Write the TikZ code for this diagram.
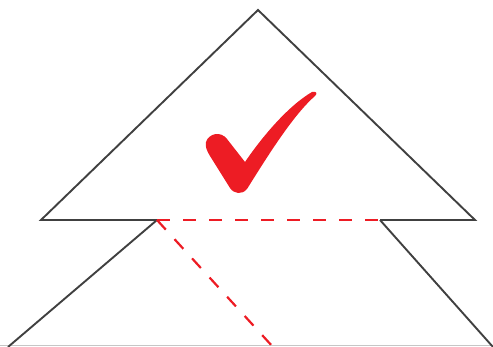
\documentclass[tikz,border=0pt]{standalone}
\definecolor{linegray}{HTML}{404040}
\definecolor{checkred}{HTML}{ED1C24}
\begin{document}
\begin{tikzpicture}[x=1pt, y=-1pt,
		outline/.style={line width=1.9pt, draw=linegray, line join=miter},
		cutline/.style={line width=2.2pt, draw=checkred, dash pattern=on 13pt off 13pt}]
	\useasboundingbox (0,0) rectangle (493,347);
	\coordinate (apex) at (258,10);
	\coordinate (baseL) at (41,220);
	\coordinate (baseR) at (475,220);
	\coordinate (cutL) at (157,220);
	\coordinate (cutR) at (380,220);
	\coordinate (footL) at (8,347);
	\coordinate (footR) at (493,347);
	\coordinate (cutEnd) at (273,347);
	% ground line
	\draw[gray!45, line width=1pt] (0,346) -- (493,346);
	% roof and lower part
	\draw[outline] (cutL) -- (baseL) -- (apex) -- (baseR) -- (cutR);
	\draw[outline] (footL) -- (cutL);
	\draw[outline] (cutR) -- (footR);
	% cut lines
	\draw[cutline] (cutL) -- (cutR);
	\draw[cutline] (cutL) -- (cutEnd);
	% check mark
	\fill[checkred] (245,162) -- (227,139) .. controls (221,131) and (209,133) .. (206,142)
		.. controls (205,147) and (207,151) .. (210,156) -- (230,188)
		.. controls (234,194) and (242,195) .. (247,189)
		.. controls (264,162) and (292,116) .. (315,96)
		.. controls (318,93) and (316,91) .. (312,92)
		.. controls (288,106) and (262,137) .. cycle;
\end{tikzpicture}
\end{document}
